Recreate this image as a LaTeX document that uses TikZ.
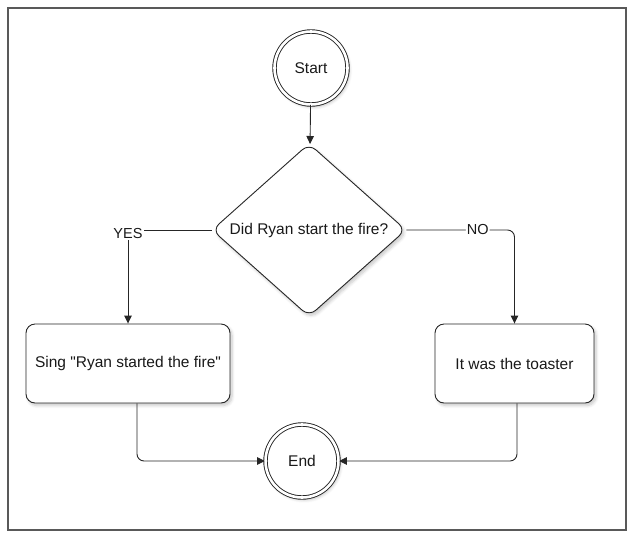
\documentclass[tikz,border=0pt]{standalone}
\usepackage{fontspec}
\setmainfont{Liberation Sans}[Ligatures=TeXOff]
\usetikzlibrary{shapes.geometric,arrows.meta,shadows.blur}
\begin{document}
\begin{tikzpicture}[x=1pt,y=-1pt,
  every node/.style={font=\fontsize{15.5}{18}\selectfont, text=black!90},
  shade/.style={blur shadow={shadow blur steps=6, shadow opacity=22, shadow xshift=2pt, shadow yshift=-2.5pt, shadow blur radius=3pt}},
  termbox/.style={circle, draw=black!85, line width=0.9pt, double=white, double distance=2.6pt, minimum size=73pt, inner sep=0pt, fill=white, shade},
  decbox/.style={diamond, draw=black!85, line width=0.9pt, minimum width=194pt, minimum height=165pt, inner sep=0pt, rounded corners=9pt, fill=white, shade},
  actbox/.style={rectangle, draw=black!85, line width=0.9pt, rounded corners=9pt, inner sep=0pt, fill=white, shade},
  conn/.style={draw=black!85, line width=0.9pt, -{Triangle[length=8pt,width=7.5pt]}, rounded corners=7pt},
  lbl/.style={fill=white, inner sep=1pt, font=\fontsize{14.5}{16}\selectfont}
]
\useasboundingbox (0,0) rectangle (632,539);
\draw[draw=black!65, line width=1.8pt] (8,8) rectangle (626,530);

\node[termbox] (start) at (311,68) {Start};
\node[decbox] (dec) at (309,230) {Did Ryan start the fire?};
\node[actbox, minimum width=204pt, minimum height=79pt] (sing) at (128,363.5) {Sing "Ryan started the fire"};
\node[actbox, minimum width=159pt, minimum height=79pt] (toast) at (514.5,363.5) {It was the toaster};
\node[termbox] (end) at (302,461) {End};

\draw[conn] (start) -- (dec);
\draw[conn, rounded corners=0pt] (dec.west) -| node[lbl, pos=0.5, yshift=-4pt] (yes) {YES} (sing.north);
\draw[conn] (dec.east) -| node[lbl, pos=0.33] (no) {NO} (toast.north);
\draw[conn] ([xshift=9pt]sing.south) |- (end.west);
\draw[conn] ([xshift=2.5pt]toast.south) |- (end.east);
\end{tikzpicture}
\end{document}
